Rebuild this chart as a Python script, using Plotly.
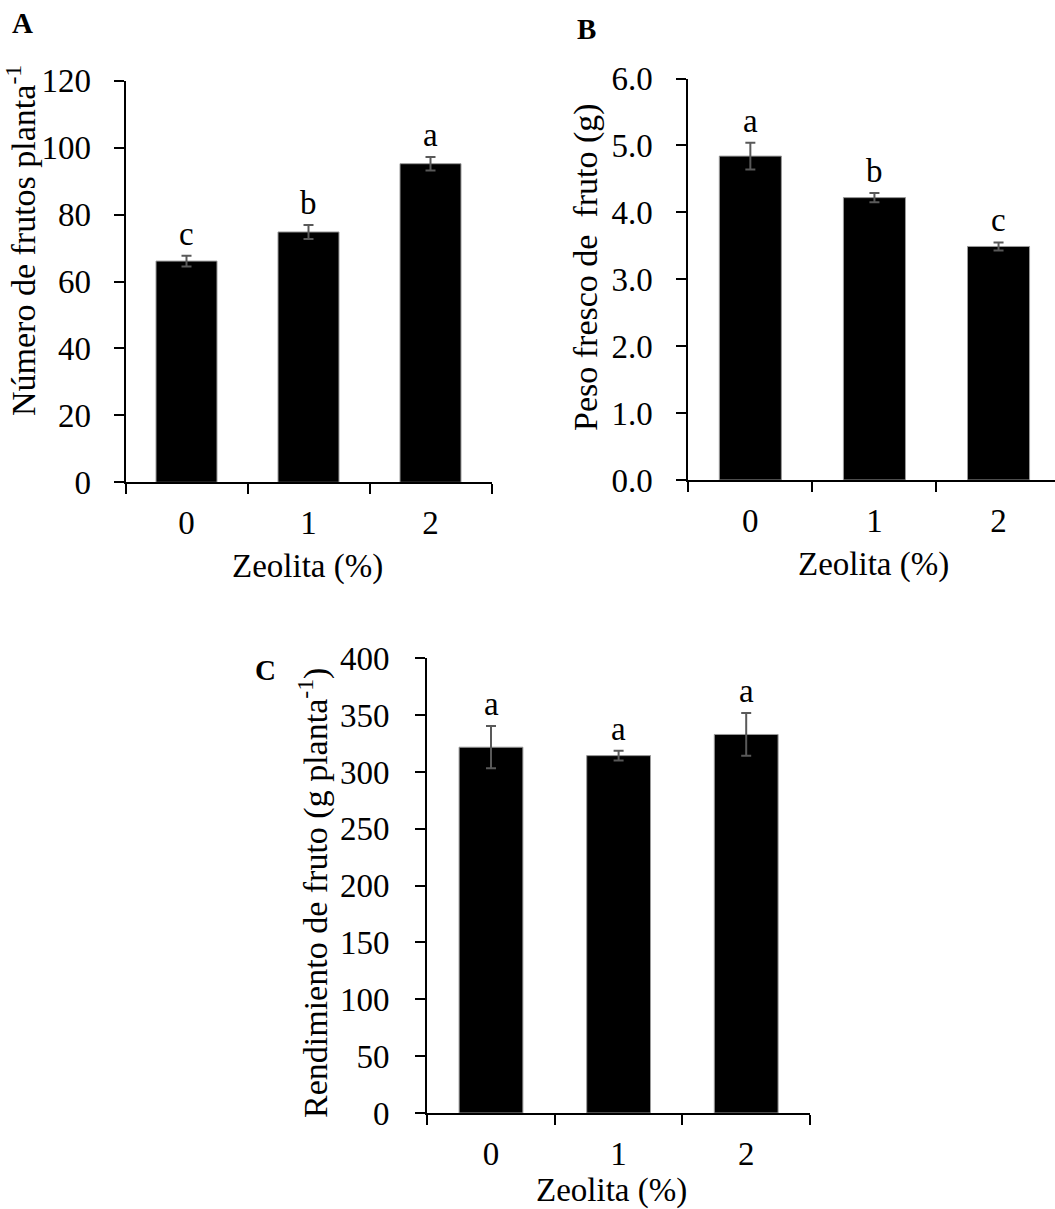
import plotly.graph_objects as go

W, H = 1055, 1209

categories = ["0", "1", "2"]
frutos = [66.1, 74.8, 95.2]
frutos_err = [1.6, 2.1, 2.0]
frutos_letters = ["c", "b", "a"]

peso = [4.84, 4.22, 3.49]
peso_err = [0.20, 0.07, 0.06]
peso_letters = ["a", "b", "c"]

rend = [321.8, 314.4, 333.0]
rend_err = [18.6, 4.3, 18.8]
rend_letters = ["a", "a", "a"]

FONT = "Liberation Serif"
FS = 33
FT = 34

def px_x(p):
    return p / W

def px_y(p):
    return 1 - p / H

fig = go.Figure()

panels = [
    ("x", "y", frutos, frutos_err, frutos_letters),
    ("x2", "y2", peso, peso_err, peso_letters),
    ("x3", "y3", rend, rend_err, rend_letters),
]

for xa, ya, vals, errs, letters in panels:
    fig.add_trace(go.Bar(
        x=categories, y=vals, xaxis=xa, yaxis=ya, width=0.5,
        marker=dict(color="black", line=dict(color="#9a9a9a", width=1)),
        error_y=dict(type="data", array=errs, visible=True, color="#595959",
                     thickness=2, width=5),
        showlegend=False, hoverinfo="skip",
    ))
    for c, v, e, l in zip(categories, vals, errs, letters):
        fig.add_annotation(x=c, y=v + e, xref=xa, yref=ya, text=l, showarrow=False,
                           yanchor="middle", yshift=22,
                           font=dict(family=FONT, size=FS, color="black"))

axis_common = dict(showline=True, linecolor="black", linewidth=2, ticks="outside",
                   tickcolor="black", tickwidth=2, ticklen=10, showgrid=False,
                   zeroline=False, automargin=False,
                   tickfont=dict(family=FONT, size=FS, color="black"))

xcat = dict(axis_common, type="category", tickson="boundaries", ticklabelstandoff=10)

fig.update_layout(
    width=W, height=H, margin=dict(l=0, r=0, t=0, b=0, pad=0, autoexpand=False),
    plot_bgcolor="white", paper_bgcolor="white", bargap=0.5,
    xaxis=dict(xcat, domain=[px_x(125.5), px_x(491.5)], range=[-0.5, 2.5], anchor="y"),
    yaxis=dict(axis_common, domain=[px_y(482.3), px_y(80.7)], range=[0, 120], dtick=20,
               anchor="x", ticklabelstandoff=16),
    xaxis2=dict(xcat, domain=[px_x(688.3), 1.0], range=[-0.5, 2.455], anchor="y2"),
    yaxis2=dict(axis_common, domain=[px_y(480), px_y(78.5)], range=[0, 6], dtick=1,
                tickformat=".1f", anchor="x2", ticklabelstandoff=17),
    xaxis3=dict(xcat, domain=[px_x(427.2), px_x(810)], range=[-0.5, 2.5], anchor="y3"),
    yaxis3=dict(axis_common, domain=[px_y(1113), px_y(658.3)], range=[0, 400], dtick=50,
                anchor="x3", ticklabelstandoff=19),
)

def ann(text, x, y, size=FS, angle=0):
    fig.add_annotation(x=px_x(x), y=px_y(y), xref="paper", yref="paper", text=text,
                       showarrow=False, textangle=angle, xanchor="center", yanchor="middle",
                       font=dict(family=FONT, size=size, color="black"))

# panel letters
ann("<b>A</b>", 22, 23, size=29)
ann("<b>B</b>", 586, 29, size=29)
ann("<b>C</b>", 265, 670, size=29)

# axis titles
ann("Zeolita (%)", 307, 566)
ann("Zeolita (%)", 873, 564)
ann("Zeolita (%)", 611, 1190)
ann("Número de frutos planta<sup>-1</sup>", 21, 241, size=FT, angle=-90)
ann("Peso fresco de  fruto (g)", 586, 267, size=FT, angle=-90)
ann("Rendimiento de fruto (g planta<sup>-1</sup>)", 313, 893, size=FT, angle=-90)

fig.write_html("out.html", config={"displayModeBar": False},
               post_script="document.body.style.margin='0';")
